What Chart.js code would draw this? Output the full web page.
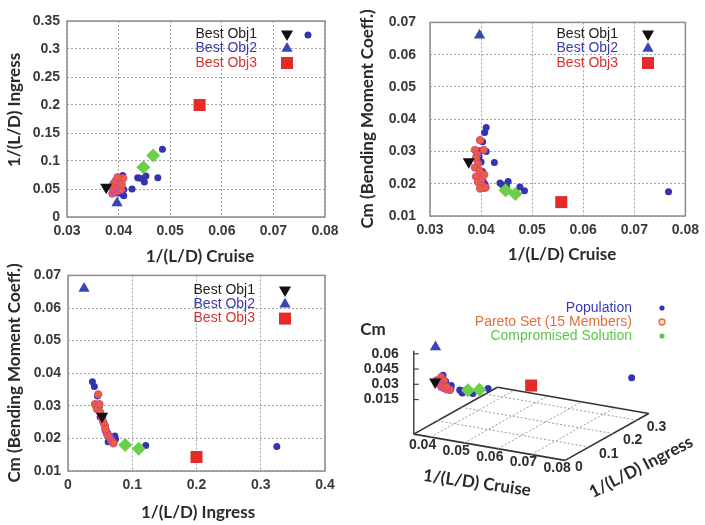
<!DOCTYPE html>
<html>
<head>
<meta charset="utf-8">
<title>Pareto front</title>
<script src="https://cdn.jsdelivr.net/npm/chart.js@4.4.1/dist/chart.umd.min.js"></script>
<style>
  body { margin: 0; background: #fff; }
  #page { position: relative; width: 705px; height: 525px; overflow: hidden; }
  #page canvas { position: absolute; }
</style>
</head>
<body>
<div id="page">
  <canvas id="cruiseIngress" width="350" height="270" style="left:0;top:0"></canvas>
  <canvas id="cruiseCm" width="355" height="270" style="left:350px;top:0"></canvas>
  <canvas id="ingressCm" width="350" height="265" style="left:0;top:260px"></canvas>
  <canvas id="view3d" width="355" height="265" style="left:350px;top:260px"></canvas>
</div>
<script>
// Population (blue dots): 1/(L/D) cruise, 1/(L/D) ingress, Cm
const popCruise  = [0.0410, 0.0407, 0.0403, 0.0398, 0.0410, 0.0396, 0.0400, 0.0403, 0.0393, 0.0400, 0.0400,
                    0.0406, 0.0408, 0.0404, 0.0426, 0.0437, 0.0442, 0.0450, 0.0453, 0.0476, 0.0485, 0.0767];
const popIngress = [0.038, 0.041, 0.046, 0.043, 0.049, 0.048, 0.054, 0.058, 0.060, 0.062, 0.066,
                    0.070, 0.074, 0.064, 0.050, 0.070, 0.069, 0.0625, 0.073, 0.070, 0.121, 0.325];
const popCm      = [0.0374, 0.0359, 0.0330, 0.0302, 0.0300, 0.0285, 0.0267, 0.0238, 0.0221, 0.0216, 0.0195,
                    0.0186, 0.0198, 0.0208, 0.0266, 0.0202, 0.0196, 0.0190, 0.0207, 0.0190, 0.0178, 0.0175];

// Pareto set (15 members)
const paretoCruise  = [0.0388, 0.0392, 0.0398, 0.0390, 0.0405, 0.0394, 0.0388, 0.0397, 0.0390, 0.0400,
                       0.0394, 0.0402, 0.0409, 0.0398, 0.0406];
const paretoIngress = [0.042, 0.045, 0.047, 0.050, 0.049, 0.053, 0.055, 0.057, 0.059, 0.061,
                       0.064, 0.067, 0.069, 0.071, 0.058];
const paretoCm      = [0.0305, 0.0290, 0.0335, 0.0280, 0.0305, 0.0262, 0.0250, 0.0240, 0.0222, 0.0212,
                       0.0205, 0.0195, 0.0188, 0.0185, 0.0228];

// Compromised solution
const compCruise  = [0.0448, 0.0467];
const compIngress = [0.089, 0.110];
const compCm      = [0.0180, 0.0168];

// Best Obj1, Best Obj2, Best Obj3
const bestLabels  = ["Best Obj1", "Best Obj2", "Best Obj3"];
const bestCruise  = [0.0376, 0.0397, 0.0557];
const bestIngress = [0.053, 0.025, 0.200];
const bestCm      = [0.0268, 0.0660, 0.0143];

const setLabels = ["Population", "Pareto Set (15 Members)", "Compromised Solution"];

// tick labels
const cruiseTicks  = [0.03, 0.04, 0.05, 0.06, 0.07, 0.08];
const ingressTicks = [0, 0.05, 0.1, 0.15, 0.2, 0.25, 0.3, 0.35];
const ingressTicksWide = [0, 0.1, 0.2, 0.3, 0.4];
const cmTicks      = [0.01, 0.02, 0.03, 0.04, 0.05, 0.06, 0.07];
const cruiseTicks3d  = [0.04, 0.05, 0.06, 0.07, 0.08];
const ingressTicks3d = [0, 0.1, 0.2, 0.3];
const cmTicks3d      = [0.015, 0.03, 0.045, 0.06];

const POP = { cruise: popCruise, ingress: popIngress, cm: popCm };
const PARETO = { cruise: paretoCruise, ingress: paretoIngress, cm: paretoCm };
const COMP = { cruise: compCruise, ingress: compIngress, cm: compCm };
const BEST = { cruise: bestCruise, ingress: bestIngress, cm: bestCm };

const tickFont = { family: "'Liberation Sans', Arial, sans-serif", size: 14, weight: "bold" };
const titleFont = "bold 17px Lato, sans-serif";
const legendFont = "14px 'Liberation Sans', Arial, sans-serif";

const BLUE = "#3434ae";

// own marker drawing for the legends
function marker(ctx, shape, x, y, r, fill, stroke, lw) {
    ctx.beginPath();
    if (shape === "circle") ctx.arc(x, y, r, 0, Math.PI * 2);
    else if (shape === "up") {
        ctx.moveTo(x, y - r); ctx.lineTo(x + r * 0.866, y + r / 2); ctx.lineTo(x - r * 0.866, y + r / 2);
        ctx.closePath();
    } else if (shape === "down") {
        ctx.moveTo(x, y + r); ctx.lineTo(x + r * 0.866, y - r / 2); ctx.lineTo(x - r * 0.866, y - r / 2);
        ctx.closePath();
    } else if (shape === "square") ctx.rect(x - r, y - r, 2 * r, 2 * r);
    if (fill) { ctx.fillStyle = fill; ctx.fill(); }
    if (stroke) { ctx.strokeStyle = stroke; ctx.lineWidth = lw || 1; ctx.stroke(); }
}

const bestLegend = [
    { text: bestLabels[0], color: "#1e1e1e", shape: "down", r: 7, fill: "#111" },
    { text: bestLabels[1], color: "#3a3ab4", shape: "up", r: 6.5, fill: "#3a46b8" },
    { text: bestLabels[2], color: "#d83232", shape: "square", r: 6, fill: "#e52a2a" },
];

// frame, titles and legend
const decor = {
    id: "decor",
    beforeDatasetsDraw(chart, args, o) {
        if (!o.frame) return;
        const { ctx, chartArea: a } = chart;
        ctx.save();
        ctx.strokeStyle = "#8c8c8c";
        ctx.lineWidth = 1.5;
        ctx.strokeRect(a.left, a.top, a.right - a.left, a.bottom - a.top);
        ctx.restore();
    },
    afterDraw(chart, args, o) {
        const ctx = chart.ctx;
        ctx.save();
        ctx.font = titleFont;
        ctx.fillStyle = "#2a2a2a";
        ctx.textAlign = "center";
        ctx.textBaseline = "middle";
        (o.titles || []).forEach((t) => {
            ctx.save();
            ctx.translate(t.x, t.y);
            ctx.rotate((t.angle * Math.PI) / 180);
            ctx.fillText(t.text, 0, 0);
            ctx.restore();
        });
        const L = o.legend;
        if (L) {
            ctx.font = legendFont;
            ctx.textAlign = "right";
            L.items.forEach((it, i) => {
                const y = L.y + i * L.dy;
                ctx.fillStyle = it.color;
                ctx.fillText(it.text, L.right, y);
                marker(ctx, it.shape, L.mx, y, it.r, it.fill, it.stroke, it.lw);
            });
        }
        ctx.restore();
    },
};

function axis(ticks, pad, size, isY) {
    return {
        type: "linear",
        min: ticks[0],
        max: ticks[ticks.length - 1],
        afterBuildTicks: (s) => { s.ticks = ticks.map((v) => ({ value: v })); },
        afterFit: (s) => { if (isY) s.width = size; else s.height = size; },
        grid: { color: "#a2a2a2", lineWidth: 1, drawTicks: false },
        border: { display: false, dash: [2, 2] },
        ticks: { padding: pad, color: "#3a3a3a", font: tickFont, callback: (v) => String(+v.toFixed(3)) },
    };
}

// same marks in every view, topmost first
function markSets(m) {
    const b = m(BEST);
    const base = { pointBorderWidth: 0, clip: false };
    return [
        { ...base, data: [b[0]], pointStyle: "triangle", pointRotation: 180, pointRadius: 7,
          pointBackgroundColor: "#111", pointBorderColor: "#111" },
        { ...base, data: [b[1]], pointStyle: "triangle", pointRadius: 6.5,
          pointBackgroundColor: "#3a46b8", pointBorderColor: "#3a46b8" },
        { ...base, data: [b[2]], pointStyle: "rect", pointRadius: 8.5,
          pointBackgroundColor: "#e52a2a", pointBorderColor: "#e52a2a" },
        { ...base, data: m(COMP), pointStyle: "rectRot", pointRadius: 7,
          pointBackgroundColor: "#6ccf4c", pointBorderColor: "#6ccf4c" },
        { ...base, data: m(PARETO), pointStyle: "circle", pointRadius: 3.6, pointBorderWidth: 1.2,
          pointBackgroundColor: "#f0602e", pointBorderColor: "rgba(205,70,150,0.85)" },
        { ...base, data: m(POP), pointStyle: "circle", pointRadius: 3.5,
          pointBackgroundColor: BLUE, pointBorderColor: BLUE },
    ];
}

function panel(id, kx, ky, xTicks, yTicks, box, decorOpts) {
    const m = (s) => s[kx].map((v, i) => ({ x: v, y: s[ky][i] }));
    return new Chart(document.getElementById(id), {
        type: "scatter",
        data: { datasets: markSets(m) },
        plugins: [decor],
        options: {
            responsive: false,
            animation: false,
            events: [],
            layout: { padding: { top: box.top, right: box.right, left: 0, bottom: 0 } },
            scales: {
                x: axis(xTicks, box.xPad, box.xh, false),
                y: axis(yTicks, box.yPad, box.yw, true),
            },
            plugins: { legend: { display: false }, tooltip: { enabled: false }, decor: decorOpts },
        },
    });
}

panel("cruiseIngress", "cruise", "ingress", cruiseTicks, ingressTicks,
    { top: 21, right: 25, xh: 53, yw: 67, xPad: 6, yPad: 7 },
    {
        frame: true,
        titles: [
            { text: "1/(L/D) Cruise", x: 200, y: 257, angle: 0 },
            { text: "1/(L/D) Ingress", x: 15, y: 110, angle: -90 },
        ],
        legend: { items: bestLegend, right: 257, y: 34, dy: 14.5, mx: 287 },
    });

panel("cruiseCm", "cruise", "cm", cruiseTicks, cmTicks,
    { top: 21, right: 15, xh: 54, yw: 80, xPad: 6, yPad: 14 },
    {
        frame: true,
        titles: [
            { text: "1/(L/D) Cruise", x: 212, y: 255, angle: 0 },
            { text: "Cm (Bending Moment Coeff.)", x: 18, y: 119, angle: -90 },
        ],
        legend: { items: bestLegend, right: 268, y: 34, dy: 14.5, mx: 298 },
    });

panel("ingressCm", "ingress", "cm", ingressTicksWide, cmTicks,
    { top: 15, right: 25, xh: 54, yw: 68, xPad: 6, yPad: 7 },
    {
        frame: true,
        titles: [
            { text: "1/(L/D) Ingress", x: 198, y: 253, angle: 0 },
            { text: "Cm (Bending Moment Coeff.)", x: 15, y: 113, angle: -90 },
        ],
        legend: { items: bestLegend, right: 255, y: 30, dy: 14.3, mx: 285 },
    });

// ---- 3D view: oblique projection of (cruise, ingress, cm) onto the panel ----
const CRUISE_MIN = 0.035, CRUISE_MAX = 0.08, ING_MAX = 0.35, Z_FLOOR = -0.019, Z_TOP = 0.063;
function proj(c, g, z) {
    const dc = c - CRUISE_MIN;
    return { x: 58 + 3533 * dc + 251 * g, y: 177 + 622 * dc - 143 * g - 1087 * (z - Z_FLOOR) };
}

function seg(a, b, color, width, dash) {
    return { data: [a, b], showLine: true, pointRadius: 0, borderColor: color, borderWidth: width,
             borderDash: dash || [], clip: false };
}

const floorLines = [];
cruiseTicks3d.filter((v) => v < CRUISE_MAX).forEach((v) =>
    floorLines.push(seg(proj(v, 0, Z_FLOOR), proj(v, ING_MAX, Z_FLOOR), "#9a9a9a", 1, [2, 2])));
ingressTicks3d.filter((v) => v > 0).forEach((v) =>
    floorLines.push(seg(proj(CRUISE_MIN, v, Z_FLOOR), proj(CRUISE_MAX, v, Z_FLOOR), "#9a9a9a", 1, [2, 2])));
const corners = [proj(CRUISE_MIN, 0, Z_FLOOR), proj(CRUISE_MAX, 0, Z_FLOOR),
                 proj(CRUISE_MAX, ING_MAX, Z_FLOOR), proj(CRUISE_MIN, ING_MAX, Z_FLOOR)];
corners.forEach((p, i) => floorLines.push(seg(p, corners[(i + 1) % 4], "#333", 1.6)));
floorLines.push(seg(proj(CRUISE_MIN, 0, Z_FLOOR), proj(CRUISE_MIN, 0, Z_TOP), "#444", 1.5));

const axes3d = {
    id: "axes3d",
    afterDatasetsDraw(chart) {
        const { ctx, scales } = chart;
        const px = (p) => ({ x: scales.x.getPixelForValue(p.x), y: scales.y.getPixelForValue(p.y) });
        ctx.save();
        ctx.font = "bold 14px 'Liberation Sans', Arial, sans-serif";
        ctx.fillStyle = "#2e2e2e";
        ctx.strokeStyle = "#444";
        ctx.lineWidth = 1.2;
        ctx.textBaseline = "middle";
        // vertical Cm axis
        ctx.textAlign = "right";
        cmTicks3d.forEach((v) => {
            const p = px(proj(CRUISE_MIN, 0, v));
            ctx.beginPath(); ctx.moveTo(p.x, p.y); ctx.lineTo(p.x + 5, p.y); ctx.stroke();
            ctx.fillText(String(v), p.x - 15, p.y);
        });
        // cruise along the front edge
        ctx.textAlign = "center";
        cruiseTicks3d.forEach((v) => {
            const p = px(proj(v, 0, Z_FLOOR));
            ctx.fillText(String(v), p.x - 8, p.y + 8);
        });
        // ingress along the right edge
        ctx.textAlign = "left";
        ingressTicks3d.forEach((v) => {
            const p = px(proj(CRUISE_MAX, v, Z_FLOOR));
            ctx.fillText(String(v), p.x + 10, p.y + 7);
        });
        ctx.restore();
    },
};

const m3 = (s) => s.cruise.map((c, i) => proj(c, s.ingress[i], s.cm[i]));

new Chart(document.getElementById("view3d"), {
    type: "scatter",
    data: { datasets: markSets(m3).concat(floorLines) },
    plugins: [axes3d, decor],
    options: {
        responsive: false,
        animation: false,
        events: [],
        layout: { padding: 0 },
        scales: {
            x: { type: "linear", display: false, min: 0, max: 355 },
            y: { type: "linear", display: false, min: 0, max: 265, reverse: true },
        },
        plugins: {
            legend: { display: false },
            tooltip: { enabled: false },
            decor: {
                frame: false,
                titles: [
                    { text: "Cm", x: 23, y: 70, angle: 0 },
                    { text: "1/(L/D) Cruise", x: 127, y: 223, angle: 8 },
                    { text: "1/(L/D) Ingress", x: 291, y: 207, angle: -27.5 },
                ],
                legend: {
                    right: 282, y: 48, dy: 14, mx: 312,
                    items: [
                        { text: setLabels[0], color: "#3a3ab4", shape: "circle", r: 2.6, fill: BLUE },
                        { text: setLabels[1], color: "#e0703a", shape: "circle", r: 3, fill: "#f6d8c8",
                          stroke: "#e0703a", lw: 1.3 },
                        { text: setLabels[2], color: "#5cc84a", shape: "circle", r: 2.6, fill: "#5cc84a" },
                    ],
                },
            },
        },
    },
});
</script>
</body>
</html>
